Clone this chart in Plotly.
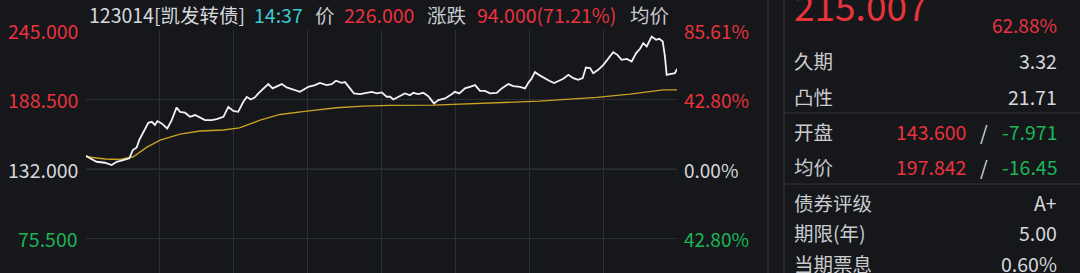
import plotly.graph_objects as go

W, H = 1080, 273

# ---------------- data ----------------
minutes = [0, 1.6, 4.3, 7.7, 10.4, 12.5, 15.1, 17.6, 19.0, 20.6, 21.6, 23.3, 25.3, 26.7, 28.0, 29.0,
           30.7, 33.0, 34.8, 36.8, 38.2, 40.2, 42.2, 44.3, 46.3, 48.3, 51.0, 53.1, 55.8, 57.8, 59.8,
           61.8, 63.9, 65.3, 66.9, 68.6, 70.0, 72.0, 74.0, 75.8, 77.4, 79.5, 81.5, 84.2, 86.9, 90.3,
           93.0, 95.0, 97.7, 99.8, 101.5, 103.8, 105.2, 107.2, 108.8, 111.3, 114.0, 116.0, 118.1,
           120.1, 122.1, 123.5, 124.8, 126.8, 129.5, 131.6, 132.9, 134.9, 137.0, 139.0, 141.3, 143.1,
           145.8, 148.5, 149.8, 151.6, 153.9, 155.9, 158.0, 160.0, 162.0, 164.1, 166.8, 168.8, 171.5,
           173.5, 176.2, 178.3, 179.6, 181.0, 182.3, 184.1, 186.1, 188.1, 190.1, 191.8, 193.8, 195.9,
           197.9, 199.9, 201.7, 203.0, 204.7, 206.0, 208.0, 210.1, 212.1, 214.1, 215.8, 217.5, 219.6,
           221.6, 223.4, 225.0, 226.3, 227.7, 229.7, 231.5, 232.8, 234.2, 235.1, 235.8, 237.1, 239.2,
           240.0]
price = [143.0, 140.9, 138.1, 137.3, 135.4, 138.1, 139.5, 140.9, 147.6, 149.8, 155.7, 162.5, 169.8,
         170.6, 168.0, 171.2, 169.3, 165.2, 172.0, 182.3, 178.7, 178.0, 174.7, 176.1, 174.2, 172.0,
         172.0, 172.8, 174.7, 182.8, 179.4, 178.7, 186.9, 190.9, 188.8, 190.5, 193.7, 197.8, 201.3,
         197.8, 199.6, 201.3, 198.6, 197.0, 195.0, 199.1, 200.5, 202.3, 200.5, 201.3, 204.0, 202.3,
         202.9, 197.8, 193.7, 193.1, 194.2, 195.0, 193.7, 194.5, 191.0, 191.0, 188.8, 191.0, 193.7,
         192.3, 194.2, 193.1, 194.2, 191.5, 185.6, 188.3, 189.6, 193.1, 195.0, 193.7, 197.8, 199.1,
         200.5, 195.8, 195.8, 193.7, 194.2, 197.8, 201.3, 199.6, 199.1, 197.8, 202.3, 205.9, 211.0,
         208.6, 206.1, 204.0, 202.1, 203.5, 205.6, 208.8, 206.1, 204.8, 206.1, 214.8, 214.3, 210.2,
         212.9, 216.9, 222.4, 227.3, 225.1, 221.0, 221.8, 219.7, 226.5, 230.0, 234.6, 231.9, 240.0,
         237.3, 238.1, 236.0, 223.8, 208.8, 209.4, 210.2, 213.7]

avg_minutes = [0, 7.7, 13.8, 19.2, 24.6, 30.1, 38.2, 46.3, 55.8, 62.3, 70.7, 78.8, 89.6, 101.8,
               112.6, 123.2, 141.0, 160.0, 180.3, 184.1, 207.4, 220.9, 234.4, 240.0]
avg_price = [142.2, 140.3, 140.0, 142.2, 149.8, 155.7, 160.6, 163.1, 163.9, 165.7, 172.0, 176.6,
             179.3, 182.0, 183.4, 184.0, 184.2, 185.6, 186.6, 187.4, 190.5, 193.1, 196.6, 196.6]

base_price = 132.0
price_ticks = [245.0, 188.5, 132.0, 75.5]
time_ticks = [0, 30, 60, 90, 120, 150, 180, 210, 240]

header = [("123014[凯发转债]", "#d6d8dc"), ("14:37", "#3cc8cf"), ("价", "#c9cbcf"),
          ("226.000", "#e8333d"), ("涨跌", "#c9cbcf"), ("94.000(71.21%)", "#e8333d"),
          ("均价", "#c9cbcf")]
header_x = [87, 252, 313, 342, 425, 475, 628]

big_price = "215.007"
big_pct = "62.88%"
info_labels = ["久期", "凸性", "开盘", "均价", "债券评级", "期限(年)", "当期票息"]
info_values = ["3.32", "21.71", "", "", "A+", "5.00", "0.60%"]
info_y = [61, 96, 131, 166, 202, 232, 263]
pair_rows = {2: ("143.600", "-7.971"), 3: ("197.842", "-16.45")}

# ---------------- styling ----------------
BG = "#15171b"
GRID = "#2b2e34"
RED = "#e8333d"
GREEN = "#1db455"
WHITE = "#d6d8dc"
FONT = "Noto Sans CJK SC"

plot_l, plot_r, plot_t = 86, 677, 30
ytop, ybottom = 245.3, 47.6

def px(x):
    return x / W

def py(y):
    return 1 - y / H

fig = go.Figure()
fig.add_trace(go.Scatter(x=avg_minutes, y=avg_price, mode="lines",
                         line=dict(color="#c9a227", width=1.4), hoverinfo="skip"))
fig.add_trace(go.Scatter(x=minutes, y=price, mode="lines",
                         line=dict(color="#f2f2f2", width=1.8), hoverinfo="skip"))

fig.update_layout(
    width=W, height=H, margin=dict(l=0, r=0, t=0, b=0),
    paper_bgcolor=BG, plot_bgcolor=BG, showlegend=False,
    font=dict(family=FONT, color=WHITE),
    xaxis=dict(domain=[px(plot_l), px(plot_r)], range=[0, 240], tickvals=time_ticks,
               showticklabels=False, showgrid=True, gridcolor=GRID, gridwidth=1,
               zeroline=False, showline=False, fixedrange=True),
    yaxis=dict(domain=[0, py(plot_t)], range=[ybottom, ytop], tickvals=price_ticks,
               showticklabels=False, showgrid=True, gridcolor=GRID, gridwidth=1,
               zeroline=False, showline=False, fixedrange=True),
)

# brighter base line
fig.add_shape(type="line", xref="x", yref="y", x0=0, x1=240, y0=base_price, y1=base_price,
              line=dict(color="#4a4d55", width=1), layer="below")

# axis labels
for p in price_ticks:
    col = RED if p > base_price else (GREEN if p < base_price else WHITE)
    fig.add_annotation(x=px(80), xref="paper", y=p, yref="y", text=f"{p:.3f}",
                       xanchor="right", yanchor="middle", showarrow=False,
                       font=dict(size=19.5, color=col, family=FONT))
    pct = abs((p - base_price) / base_price * 100)
    fig.add_annotation(x=px(682), xref="paper", y=p, yref="y", text=f"{pct:.2f}%",
                       xanchor="left", yanchor="middle", showarrow=False,
                       font=dict(size=19, color=col, family=FONT))

# header
for (txt, col), hx in zip(header, header_x):
    fig.add_annotation(x=px(hx), xref="paper", y=py(14), yref="paper", text=txt,
                       xanchor="left", yanchor="middle", showarrow=False,
                       font=dict(size=19.5, color=col, family=FONT))

# right panel separators
for sx in (768, 784):
    fig.add_shape(type="line", xref="paper", yref="paper", x0=px(sx), x1=px(sx), y0=0, y1=1,
                  line=dict(color=GRID, width=1.5))
for sy in (113, 184):
    fig.add_shape(type="line", xref="paper", yref="paper", x0=px(784), x1=1, y0=py(sy), y1=py(sy),
                  line=dict(color=GRID, width=1.5))

fig.add_annotation(x=px(792), xref="paper", y=py(5), yref="paper", text=big_price,
                   xanchor="left", yanchor="middle", showarrow=False,
                   font=dict(size=37, color=RED, family=FONT))
fig.add_annotation(x=px(1059), xref="paper", y=py(24), yref="paper", text=big_pct,
                   xanchor="right", yanchor="middle", showarrow=False,
                   font=dict(size=19, color=RED, family=FONT))

for i, (lab, val, yy) in enumerate(zip(info_labels, info_values, info_y)):
    fig.add_annotation(x=px(792), xref="paper", y=py(yy), yref="paper", text=lab,
                       xanchor="left", yanchor="middle", showarrow=False,
                       font=dict(size=19.5, color="#c9cbcf", family=FONT))
    if i in pair_rows:
        a, b = pair_rows[i]
        fig.add_annotation(x=px(968), xref="paper", y=py(yy), yref="paper", text=a,
                           xanchor="right", yanchor="middle", showarrow=False,
                           font=dict(size=19.5, color=RED, family=FONT))
        fig.add_annotation(x=px(984), xref="paper", y=py(yy), yref="paper", text="/",
                           xanchor="center", yanchor="middle", showarrow=False,
                           font=dict(size=19.5, color=WHITE, family=FONT))
        fig.add_annotation(x=px(1059), xref="paper", y=py(yy), yref="paper", text=b,
                           xanchor="right", yanchor="middle", showarrow=False,
                           font=dict(size=19.5, color=GREEN, family=FONT))
    else:
        fig.add_annotation(x=px(1059), xref="paper", y=py(yy), yref="paper", text=val,
                           xanchor="right", yanchor="middle", showarrow=False,
                           font=dict(size=19.5, color=WHITE, family=FONT))

fig.write_html("out.html")
